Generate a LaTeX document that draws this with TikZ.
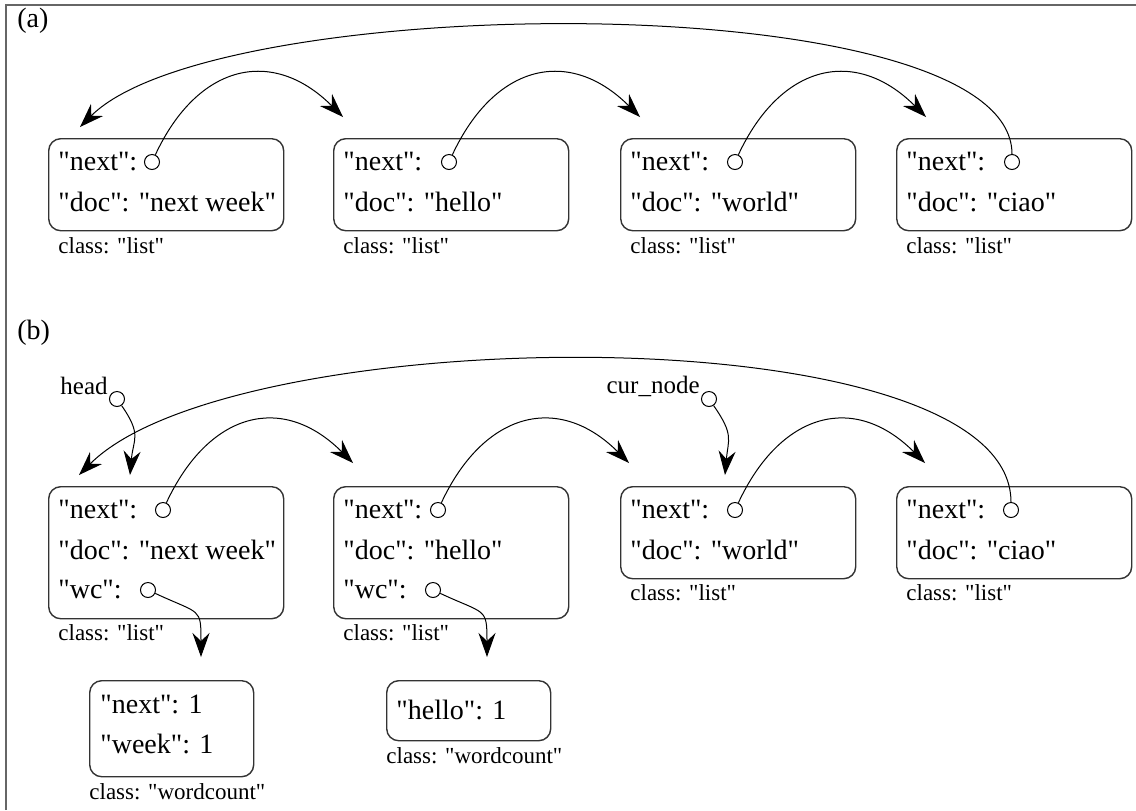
\documentclass[tikz,border=0pt]{standalone}
\usepackage{fontspec}
\setmainfont{Liberation Serif}[Ligatures=TeXOff]
\usepackage{tikz}
\usetikzlibrary{arrows.meta, positioning, calc}

\tikzset{
    objbox/.style={draw=black!80, line width=0.7pt, rounded corners=6pt, anchor=north west, inner sep=0pt, minimum width=117.5pt},
    wcbox/.style={objbox, minimum width=82pt},
    field/.style={anchor=west, inner sep=0pt, font=\fontsize{14}{16}\selectfont},
    clslabel/.style={anchor=west, inner sep=0pt, font=\fontsize{11.5}{13}\selectfont},
    varlabel/.style={anchor=east, inner sep=0pt, font=\fontsize{12.5}{14}\selectfont},
    ptr/.style={circle, draw, line width=0.5pt, minimum size=7.5pt, inner sep=0pt},
    link/.style={line width=0.5pt, -{Stealth[length=12pt, width=8.5pt, inset=4pt]}}
}

\begin{document}
\begin{tikzpicture}[x=0.5pt, y=-0.5pt]
    \useasboundingbox (0,0) rectangle (1136,810);

    % Draw open frame (only top and left are visible)
    \draw[black!60, line width=1pt] (6,810) -- (6,5) -- (1136,5);

    % Part labels
    \node[field] (lbla) at (17,21) {(a)};
    \node[field] (lblb) at (17,333) {(b)};

    % (a) Draw list objects
    \foreach \n/\x/\cx/\d in {1/48/104/next week, 2/333/116/hello, 3/620/115/world, 4/896/116/ciao} {
        \node[objbox, minimum height=46pt] (a\n) at (\x,138) {};
        \node[field] at (\x+10,162) {"next":};
        \node[field] at (\x+10,202) {"doc": "\d"};
        \node[ptr] (a\n next) at (\x+\cx,162) {};
        \node[clslabel] at (\x+10,246) {class: "list"};
    }

    % (a) arrow targets above the boxes
    \coordinate (a1in) at (80,127);
    \coordinate (a2in) at (343,117);
    \coordinate (a3in) at (640,117);
    \coordinate (a4in) at (926,117);

    % (a) Draw next links
    \draw[link] (a1next) to[out=65, in=135, distance=50pt] (a2in);
    \draw[link] (a2next) to[out=65, in=135, distance=50pt] (a3in);
    \draw[link] (a3next) to[out=65, in=135, distance=50pt] (a4in);
    \draw[link] (a4next) to[out=90, in=45, out distance=85pt, in distance=97pt] (a1in);

    % (b) Draw list objects with three fields
    \node[objbox, minimum height=66pt] (b1) at (48,486) {};
    \node[field] at (58,510) {"next":};
    \node[field] at (58,550) {"doc": "next week"};
    \node[field] at (58,590) {"wc":};
    \node[ptr] (b1next) at (163,510) {};
    \node[ptr] (b1wc) at (148,590) {};
    \node[clslabel] at (58,633) {class: "list"};

    \node[objbox, minimum height=66pt] (b2) at (333,486) {};
    \node[field] at (343,510) {"next":};
    \node[field] at (343,550) {"doc": "hello"};
    \node[field] at (343,590) {"wc":};
    \node[ptr] (b2next) at (438,510) {};
    \node[ptr] (b2wc) at (433,590) {};
    \node[clslabel] at (343,633) {class: "list"};

    % (b) Draw list objects with two fields
    \foreach \n/\x/\d in {3/620/world, 4/896/ciao} {
        \node[objbox, minimum height=46pt] (b\n) at (\x,486) {};
        \node[field] at (\x+10,510) {"next":};
        \node[field] at (\x+10,550) {"doc": "\d"};
        \node[ptr] (b\n next) at (\x+115,510) {};
        \node[clslabel] at (\x+10,593) {class: "list"};
    }

    % (b) Draw wordcount objects
    \node[wcbox, minimum height=48pt] (wc1) at (89,680) {};
    \node[field] at (100,704) {"next": 1};
    \node[field] at (100,744) {"week": 1};
    \node[clslabel] at (89,792) {class: "wordcount"};

    \node[wcbox, minimum height=30pt] (wc2) at (386,680) {};
    \node[field] at (396,710) {"hello": 1};
    \node[clslabel] at (386,756) {class: "wordcount"};

    % (b) Variables
    \node[varlabel] (head) at (108,386) {head};
    \node[ptr] (headptr) at (117,399) {};
    \node[varlabel] (curnode) at (700,386) {cur\_node};
    \node[ptr] (curptr) at (709,399) {};

    % (b) arrow targets
    \coordinate (b1in) at (79,475);
    \coordinate (b1head) at (130,475);
    \coordinate (b2in) at (353,463);
    \coordinate (b3in) at (629,463);
    \coordinate (b3cur) at (725,475);
    \coordinate (b4in) at (925,463);
    \coordinate (wc1in) at (201,657);
    \coordinate (wc2in) at (487,657);

    % (b) Draw links
    \draw[link] (b1next) to[out=65, in=135, distance=50pt] (b2in);
    \draw[link] (b2next) to[out=65, in=135, distance=50pt] (b3in);
    \draw[link] (b3next) to[out=65, in=135, distance=50pt] (b4in);
    \draw[link] (b4next) to[out=90, in=45, out distance=95pt, in distance=110pt] (b1in);
    \draw[link] (headptr) to[out=-55, in=85, distance=18pt] (b1head);
    \draw[link] (curptr) to[out=-55, in=85, distance=18pt] (b3cur);
    \draw[link] (b1wc) to[out=-25, in=90, distance=25pt] (wc1in);
    \draw[link] (b2wc) to[out=-25, in=90, distance=25pt] (wc2in);
\end{tikzpicture}
\end{document}
